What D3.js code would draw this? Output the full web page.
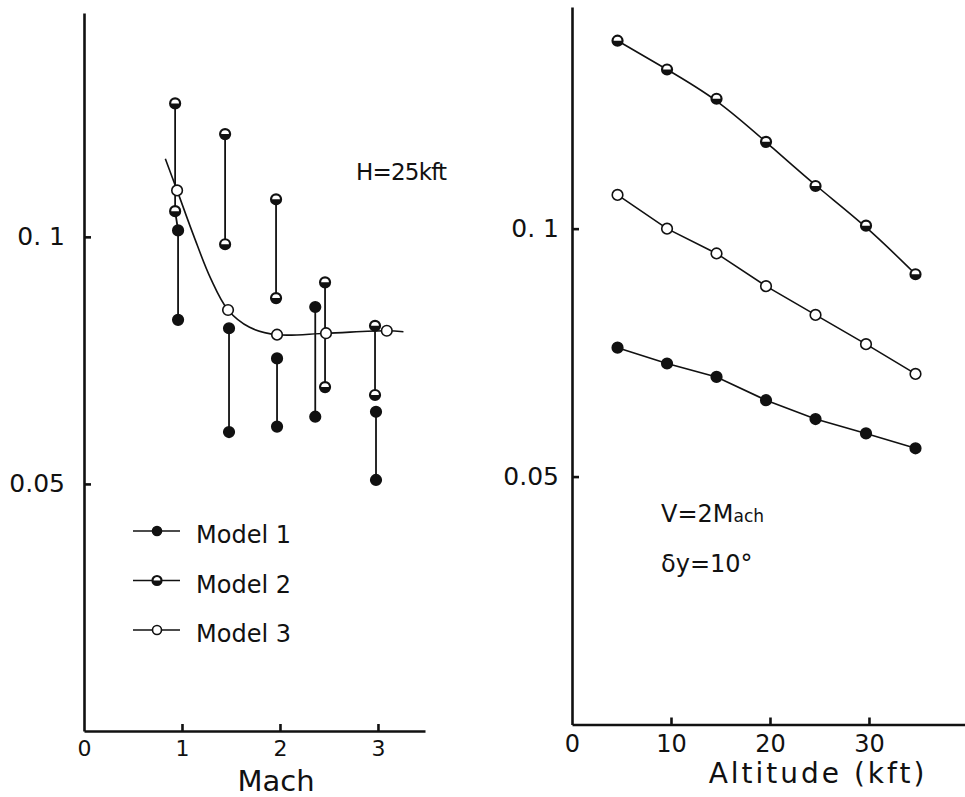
<!DOCTYPE html>
<html>
<head>
<meta charset="utf-8">
<title>Model comparison vs Mach and altitude</title>
<script src="https://cdn.jsdelivr.net/npm/d3@7"></script>
<style type="text/css">
body { margin: 0; background: #fff; }
svg text { font-family: "DejaVu Sans", sans-serif; fill: #111; }
.axis path, .axis line { stroke: #111; stroke-width: 2.6px; }
.axis text { font-family: "DejaVu Sans", sans-serif; fill: #111; }
</style>
</head>
<body>
<svg id="chart" width="965" height="797"></svg>
<script type="text/javascript">
/* left panel: H = 25 kft, value vs Mach. each row = [mach, upper, lower] */
var model1Ranges = [[0.96, 0.1013, 0.0832], [1.48, 0.0815, 0.0605], [1.97, 0.0754, 0.0616], [2.36, 0.0858, 0.0636], [2.98, 0.0646, 0.0508]];
var model2Ranges = [[0.93, 0.1270, 0.1052], [1.44, 0.1208, 0.0985], [1.96, 0.1076, 0.0876], [2.46, 0.0908, 0.0696], [2.97, 0.0820, 0.0680]];
var model3Mach = [0.95, 1.47, 1.97, 2.47, 3.09];
var model3Vals = [0.1094, 0.0852, 0.0802, 0.0805, 0.0810];
/* fitted curve drawn through the model 3 points */
var fitMach = [0.83, 0.95, 1.12, 1.29, 1.47, 1.69, 1.97, 2.47, 3.09, 3.26];
var fitVals = [0.1158, 0.1094, 0.1002, 0.0917, 0.0852, 0.0817, 0.0802, 0.0805, 0.0810, 0.0808];
var machTicks = [0, 1, 2, 3];
var valueTicks = [0.05, 0.1];
var valueTickLabels = ["0.05", "0. 1"];
var legendLabels = ["Model 1", "Model 2", "Model 3"];

/* right panel: V = 2 Mach, value vs altitude */
var altitude = [4.6, 9.6, 14.6, 19.6, 24.6, 29.7, 34.7];
var alt1 = [0.0760, 0.0728, 0.0701, 0.0654, 0.0616, 0.0587, 0.0557];
var alt2 = [0.1379, 0.1321, 0.1262, 0.1175, 0.1086, 0.1006, 0.0908];
var alt3 = [0.1068, 0.1000, 0.0950, 0.0884, 0.0826, 0.0767, 0.0707];
var altTicks = [0, 10, 20, 30];

var svg = d3.select("#chart");
svg.append("rect").attr("width", 965).attr("height", 797).attr("fill", "#fff");

/* marker styles: 1 filled, 2 half filled, 3 open */
function marker(sel, kind, r) {
	sel.append("circle").attr("r", r)
		.attr("fill", kind == 1 ? "#111" : "#fff")
		.attr("stroke", "#111").attr("stroke-width", kind == 2 ? 2.2 : 1.6);
	if (kind == 2) {
		sel.append("path")
			.attr("d", "M" + (-r) + ",0 A" + r + "," + r + " 0 0 0 " + r + ",0 Z")
			.attr("fill", "#111");
	}
}

function points(g, xs, ys, kind, x, y, r) {
	xs.forEach(function(d, i) {
		var p = g.append("g").attr("transform", "translate(" + x(d) + "," + y(ys[i]) + ")");
		marker(p, kind, r);
	});
}

/* ---------- left panel ---------- */
var xL = d3.scaleLinear().domain([0, 3.48]).range([84, 425]);
var yL = d3.scaleLinear().domain([0, 0.1453]).range([731, 13]);
var gL = svg.append("g");

gL.append("g").attr("class", "axis")
	.attr("transform", "translate(" + xL(0) + ",0)")
	.call(d3.axisLeft(yL).tickValues(valueTicks).tickSizeInner(-7).tickSizeOuter(0).tickPadding(19)
		.tickFormat(function(d, i) { return valueTickLabels[i]; }))
	.call(function(a) { a.selectAll("text").style("font-size", "25px"); });

gL.append("g").attr("class", "axis")
	.attr("transform", "translate(0," + yL(0) + ")")
	.call(d3.axisBottom(xL).tickValues(machTicks).tickSizeInner(-7).tickSizeOuter(0).tickPadding(9)
		.tickFormat(d3.format("d")))
	.call(function(a) {
		a.selectAll("text").style("font-size", "22px");
		a.selectAll(".tick line").filter(function(d) { return d == 0; }).remove();
	});

gL.append("text").attr("x", 276).attr("y", 791).attr("text-anchor", "middle")
	.style("font-size", "29px").text("Mach");

// vertical range lines
[model2Ranges, model1Ranges].forEach(function(rows) {
	gL.selectAll(null).data(rows).enter().append("line")
		.attr("x1", function(d) { return xL(d[0]); }).attr("x2", function(d) { return xL(d[0]); })
		.attr("y1", function(d) { return yL(d[1]); }).attr("y2", function(d) { return yL(d[2]); })
		.attr("stroke", "#111").attr("stroke-width", 1.8);
});
// link between model 2 and model 1 at the first Mach number
gL.append("line")
	.attr("x1", xL(model2Ranges[0][0])).attr("y1", yL(model2Ranges[0][2]))
	.attr("x2", xL(model1Ranges[0][0])).attr("y2", yL(model1Ranges[0][1]))
	.attr("stroke", "#111").attr("stroke-width", 1.8);

var fitLine = d3.line().curve(d3.curveCatmullRom.alpha(0.5))
	.x(function(d, i) { return xL(fitMach[i]); })
	.y(function(d) { return yL(d); });
gL.append("path").attr("d", fitLine(fitVals))
	.attr("fill", "none").attr("stroke", "#111").attr("stroke-width", 1.6);

points(gL, model1Ranges.map(function(d) { return d[0]; }), model1Ranges.map(function(d) { return d[1]; }), 1, xL, yL, 5.3);
points(gL, model1Ranges.map(function(d) { return d[0]; }), model1Ranges.map(function(d) { return d[2]; }), 1, xL, yL, 5.3);
points(gL, model2Ranges.map(function(d) { return d[0]; }), model2Ranges.map(function(d) { return d[1]; }), 2, xL, yL, 5);
points(gL, model2Ranges.map(function(d) { return d[0]; }), model2Ranges.map(function(d) { return d[2]; }), 2, xL, yL, 5);
points(gL, model3Mach, model3Vals, 3, xL, yL, 5.3);

gL.append("text").attr("x", 356).attr("y", 180).style("font-size", "23px")
	.style("letter-spacing", "-0.8px").text("H=25kft");

// legend
legendLabels.forEach(function(lab, i) {
	var ly = 531 + i * 49.5;
	gL.append("line").attr("x1", 133).attr("x2", 180).attr("y1", ly).attr("y2", ly)
		.attr("stroke", "#111").attr("stroke-width", 1.6);
	marker(gL.append("g").attr("transform", "translate(157," + ly + ")"), i + 1, 4.5);
	gL.append("text").attr("x", 196).attr("y", ly + 12).style("font-size", "24px").text(lab);
});

/* ---------- right panel ---------- */
var xR = d3.scaleLinear().domain([0, 39.7]).range([572, 965]);
var yR = d3.scaleLinear().domain([0, 0.1447]).range([724.5, 7]);
var gR = svg.append("g");

gR.append("g").attr("class", "axis")
	.attr("transform", "translate(" + xR(0) + ",0)")
	.call(d3.axisLeft(yR).tickValues(valueTicks).tickSizeInner(-7).tickSizeOuter(0).tickPadding(13)
		.tickFormat(function(d, i) { return valueTickLabels[i]; }))
	.call(function(a) { a.selectAll("text").style("font-size", "25px"); });

gR.append("g").attr("class", "axis")
	.attr("transform", "translate(0," + yR(0) + ")")
	.call(d3.axisBottom(xR).tickValues(altTicks).tickSizeInner(-7).tickSizeOuter(0).tickPadding(10)
		.tickFormat(d3.format("d")))
	.call(function(a) {
		a.selectAll("text").style("font-size", "24px");
		a.selectAll(".tick line").filter(function(d) { return d == 0; }).remove();
	});

gR.append("text").attr("x", 818).attr("y", 783).attr("text-anchor", "middle")
	.style("font-size", "28px").style("letter-spacing", "3px").text("Altitude (kft)");

var curved = d3.line().curve(d3.curveBasis)
	.x(function(d, i) { return xR(altitude[i]); }).y(function(d) { return yR(d); });
var straight = d3.line()
	.x(function(d, i) { return xR(altitude[i]); }).y(function(d) { return yR(d); });

gR.append("path").attr("d", curved(alt2)).attr("fill", "none").attr("stroke", "#111").attr("stroke-width", 1.6);
gR.append("path").attr("d", straight(alt3)).attr("fill", "none").attr("stroke", "#111").attr("stroke-width", 1.6);
gR.append("path").attr("d", straight(alt1)).attr("fill", "none").attr("stroke", "#111").attr("stroke-width", 1.6);

points(gR, altitude, alt2, 2, xR, yR, 5);
points(gR, altitude, alt3, 3, xR, yR, 5.3);
points(gR, altitude, alt1, 1, xR, yR, 5.3);

var vt = gR.append("text").attr("x", 661).attr("y", 522).style("font-size", "24px");
vt.append("tspan").text("V=2M");
vt.append("tspan").style("font-size", "17px").text("ach");
gR.append("text").attr("x", 661).attr("y", 572).style("font-size", "24px").text("δy=10°");
</script>
</body>
</html>
